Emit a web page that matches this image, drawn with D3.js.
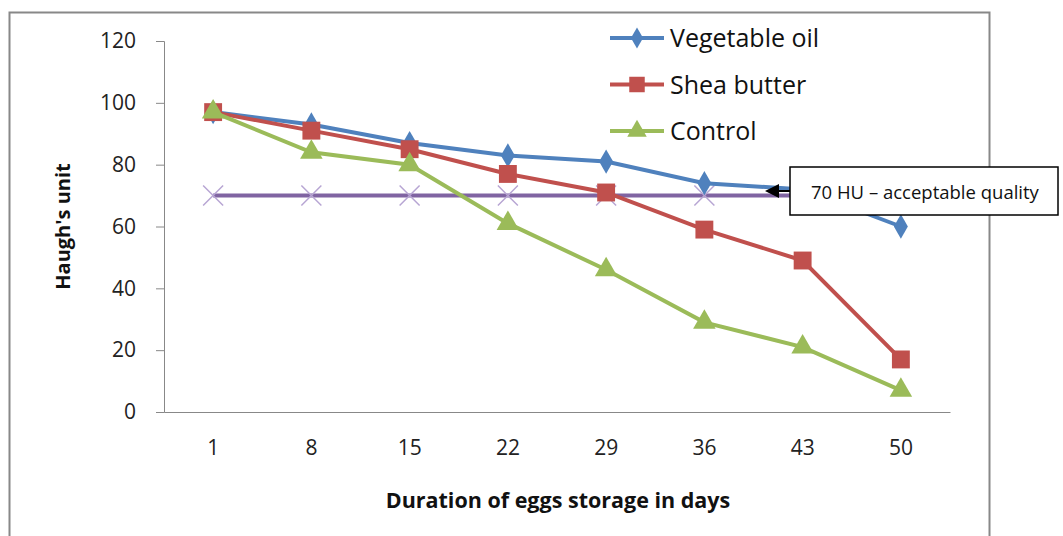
<!DOCTYPE html>
<html>
<head>
<meta charset="utf-8">
<style>
  body { margin: 0; background: #fff; }
  text { font-family: "Open Sans", "DejaVu Sans", sans-serif; }
</style>
</head>
<body>
<div id="chart"></div>
<script src="https://d3js.org/d3.v7.min.js"></script>
<script>
// data
var days = ["1", "8", "15", "22", "29", "36", "43", "50"];
var vegetableOil = [97, 93, 87, 83, 81, 74, 72, 60];
var sheaButter = [97, 91, 85, 77, 71, 59, 49, 17];
var control = [97, 84, 80, 61, 46, 29, 21, 7];
var threshold = [70, 70, 70, 70, 70, 70, 70, 70];
var yTicks = [0, 20, 40, 60, 80, 100, 120];

var series = [
  { name: "Vegetable oil", values: vegetableOil, color: "#4F81BD", symbol: d3.symbolDiamond, size: 170 },
  { name: "Shea butter", values: sheaButter, color: "#C0504D", symbol: d3.symbolSquare, size: 320 },
  { name: "Control", values: control, color: "#9BBB59", symbol: d3.symbolTriangle, size: 220 }
];

var width = 1063, height = 536;
var margin = { left: 164, right: 113, top: 41, bottom: 124 };

var svg = d3.select("#chart").append("svg")
  .attr("width", width)
  .attr("height", height);

// outer chart frame
svg.append("rect")
  .attr("x", 9.5).attr("y", 12.5)
  .attr("width", 980).attr("height", 540)
  .attr("fill", "none")
  .attr("stroke", "#888")
  .attr("stroke-width", 2);

var x = d3.scaleBand()
  .domain(days)
  .range([margin.left, width - margin.right]);

var y = d3.scaleLinear()
  .domain([0, 120])
  .range([height - margin.bottom, margin.top]);

var xPos = function(i) { return x(days[i]) + x.bandwidth() / 2; };

// y axis
var yAxis = svg.append("g")
  .attr("transform", "translate(" + margin.left + ",0)")
  .call(d3.axisLeft(y).tickValues(yTicks).tickSize(8).tickPadding(20));
yAxis.select(".domain").attr("stroke", "#888");
yAxis.selectAll(".tick line").attr("stroke", "#888");
yAxis.selectAll(".tick text")
  .attr("fill", "#222")
  .style("font-size", "21px");

// x axis
var xAxis = svg.append("g")
  .attr("transform", "translate(0," + y(0) + ")")
  .call(d3.axisBottom(x).tickSize(0).tickPadding(28));
xAxis.select(".domain").attr("stroke", "#888");
xAxis.selectAll(".tick text")
  .attr("fill", "#222")
  .style("font-size", "21px");

// axis titles
svg.append("text")
  .attr("x", 558)
  .attr("y", 508)
  .attr("text-anchor", "middle")
  .style("font-size", "21.5px")
  .style("font-weight", "bold")
  .attr("fill", "#111")
  .text("Duration of eggs storage in days");

svg.append("text")
  .attr("transform", "translate(70," + y(60) + ") rotate(-90)")
  .attr("text-anchor", "middle")
  .style("font-size", "20px")
  .style("font-weight", "bold")
  .attr("fill", "#111")
  .text("Haugh's unit");

var line = d3.line()
  .x(function(d, i) { return xPos(i); })
  .y(function(d) { return y(d); });

// 70 HU line
svg.append("path")
  .datum(threshold)
  .attr("d", line)
  .attr("fill", "none")
  .attr("stroke", "#8064A2")
  .attr("stroke-width", 4);

svg.append("g").selectAll("path")
  .data(threshold)
  .enter().append("path")
  .attr("transform", function(d, i) { return "translate(" + xPos(i) + "," + y(d) + ")"; })
  .attr("d", "M-10,-10L10,10M-10,10L10,-10")
  .attr("stroke", "#B7A5D3")
  .attr("stroke-width", 1.5);

// series lines
series.forEach(function(s) {
  svg.append("path")
    .datum(s.values)
    .attr("d", line)
    .attr("fill", "none")
    .attr("stroke", s.color)
    .attr("stroke-width", 4);

  svg.append("g").selectAll("path")
    .data(s.values)
    .enter().append("path")
    .attr("transform", function(d, i) { return "translate(" + xPos(i) + "," + y(d) + ")"; })
    .attr("d", d3.symbol().type(s.symbol).size(s.size))
    .attr("fill", s.color);
});

// legend
var legend = svg.append("g");
series.forEach(function(s, i) {
  var ly = 38 + i * 46.5;
  legend.append("line")
    .attr("x1", 610).attr("x2", 664)
    .attr("y1", ly).attr("y2", ly)
    .attr("stroke", s.color)
    .attr("stroke-width", 4);
  legend.append("path")
    .attr("transform", "translate(637," + ly + ")")
    .attr("d", d3.symbol().type(s.symbol).size(s.size * 0.75))
    .attr("fill", s.color);
  legend.append("text")
    .attr("x", 670).attr("y", ly + 9)
    .style("font-size", "25px")
    .attr("fill", "#111")
    .text(s.name);
});

// callout
svg.append("line")
  .attr("x1", 790).attr("y1", 191)
  .attr("x2", 778).attr("y2", 191)
  .attr("stroke", "#000")
  .attr("stroke-width", 2);

svg.append("path")
  .attr("d", "M765,191L779,184L779,198Z")
  .attr("fill", "#000");

svg.append("rect")
  .attr("x", 790).attr("y", 167)
  .attr("width", 268).attr("height", 48)
  .attr("fill", "#fff")
  .attr("stroke", "#000")
  .attr("stroke-width", 1.5);

svg.append("text")
  .attr("x", 811).attr("y", 199)
  .style("font-size", "18.5px")
  .attr("fill", "#111")
  .text("70 HU \u2013 acceptable quality");
</script>
</body>
</html>
